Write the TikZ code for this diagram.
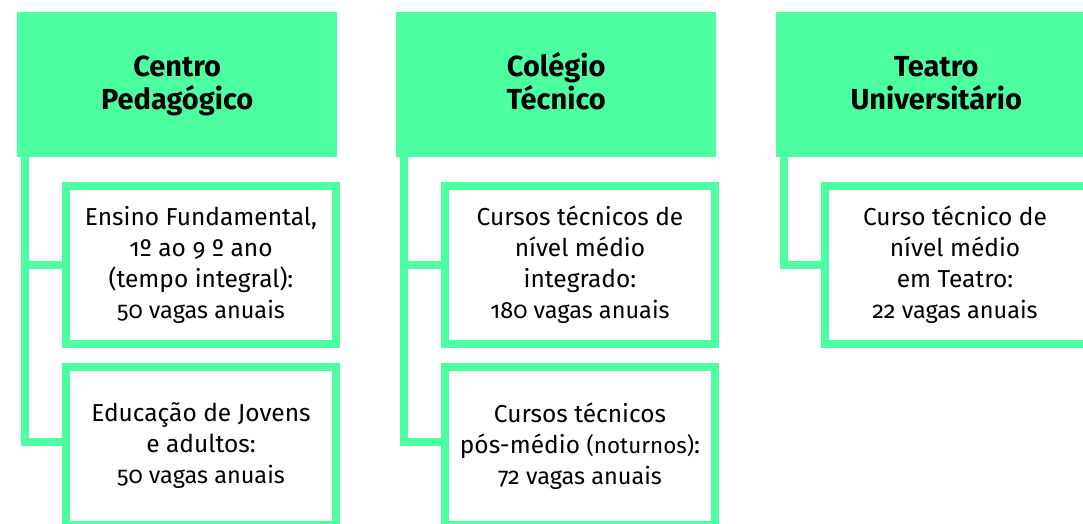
\documentclass[tikz,border=0pt]{standalone}
\usepackage{fontspec}
\setmainfont{Fira Sans}[Numbers=OldStyle]
\definecolor{mint}{RGB}{76,255,161}
\newcommand\hstrut{\rule[-8pt]{0pt}{32pt}}
\newcommand\vagas[1]{{\fontsize{23.5}{31}\selectfont #1}}
\begin{document}
\begin{tikzpicture}[x=1pt,y=-1pt,
  head/.style={fill=mint, minimum width=320pt, minimum height=145pt, anchor=north west,
    inner sep=0pt, align=center, font=\fontsize{29}{33}\selectfont\bfseries},
  sub/.style={draw=mint, line width=8pt, fill=white, minimum width=270pt, minimum height=158pt,
    inner sep=0pt, align=center, font=\fontsize{24.5}{31}\selectfont},
  subtext/.style={inner sep=0pt, align=center, font=\fontsize{24.5}{31}\selectfont},
  conn/.style={draw=mint, line width=8pt}]
\useasboundingbox (0,0) rectangle (1083,523);
\clip (0,0) rectangle (1083,523);

\node[head] (h1) at (17,12) {\hstrut Centro\\\hstrut Pedagógico};
\node[head] (h2) at (396,12) {\hstrut Colégio\\\hstrut Técnico};
\node[head] (h3) at (776,12) {\hstrut Teatro\\\hstrut Universitário};

\node[sub] (a1) at (201,265) {Ensino Fundamental,\\1º ao 9 º ano\\(tempo integral):\\\vagas{50 vagas anuais}};
\node[sub] (a2) at (201,446) {Educação de Jovens\\e adultos:\\\vagas{50 vagas anuais}};
\node[sub] (b1) at (580,265) {Cursos técnicos de\\nível médio\\integrado:\\\vagas{180 vagas anuais}};
\node[sub] (b2) at (580,446) {Cursos técnicos\\pós-médio {\fontsize{22.5}{31}\selectfont(noturnos)}:\\\vagas{72 vagas anuais}};
\node[sub] (c1) at (960,265) {};
\node[subtext] (c1t) at (955,265) {Curso técnico de\\nível médio\\em Teatro:\\\vagas{22 vagas anuais}};

\draw[conn] ([xshift=7.5pt]h1.south west) |- ([yshift=4pt]a2.west);
\draw[conn] ([xshift=7.5pt]h1.south west) |- (a1.west);
\draw[conn] ([xshift=7.5pt]h2.south west) |- ([yshift=4pt]b2.west);
\draw[conn] ([xshift=7.5pt]h2.south west) |- (b1.west);
\draw[conn] ([xshift=7.5pt]h3.south west) |- (c1.west);
\end{tikzpicture}
\end{document}
